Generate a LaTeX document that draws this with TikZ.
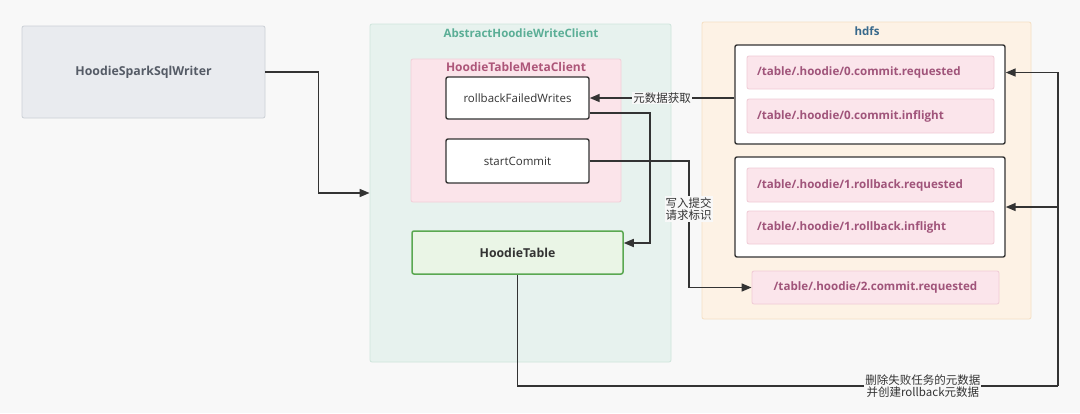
\documentclass[tikz,border=0pt]{standalone}
\usepackage{fontspec}
\setmainfont{Open Sans}
\newfontfamily\cjk{Noto Sans CJK SC}
\usetikzlibrary{arrows.meta}
\definecolor{bg}{HTML}{F8F8F8}
\definecolor{wrfill}{HTML}{E9EBEF}
\definecolor{wrdraw}{HTML}{CBD0D6}
\definecolor{wrtext}{HTML}{555B66}
\definecolor{awfill}{HTML}{E7F2EE}
\definecolor{awdraw}{HTML}{CFE5DC}
\definecolor{awtext}{HTML}{5BAE96}
\definecolor{mcfill}{HTML}{FBE4EA}
\definecolor{mcdraw}{HTML}{F2CFD8}
\definecolor{mctext}{HTML}{AD5679}
\definecolor{htfill}{HTML}{EAF5E6}
\definecolor{htdraw}{HTML}{5AA851}
\definecolor{hdfill}{HTML}{FDF2E5}
\definecolor{hddraw}{HTML}{F5DFC3}
\definecolor{hdtext}{HTML}{38698C}
\definecolor{itfill}{HTML}{FBE5EB}
\definecolor{itdraw}{HTML}{F0CBD6}
\definecolor{ittext}{HTML}{A0547A}
\definecolor{ink}{HTML}{333333}
\tikzset{
  box/.style={rounded corners=2pt, inner sep=0pt, line width=0.8pt},
  wbox/.style={box, draw=ink, fill=white, line width=1.4pt, font=\fontsize{11.5}{13}\selectfont, text=ink},
  item/.style={box, draw=itdraw, fill=itfill, font=\bfseries\fontsize{11.6}{13}\selectfont, text=ittext},
  title/.style={inner sep=0pt, font=\bfseries\fontsize{11.5}{13}\selectfont},
  conn/.style={draw=ink, line width=1.6pt},
  arr/.style={conn, -{Triangle[length=10pt,width=8pt]}},
  lbl/.style={fill=bg, inner sep=1pt, text=ink, font=\cjk\fontsize{11.5}{12.5}\selectfont, align=center},
}
\begin{document}
\begin{tikzpicture}[x=1pt,y=-1pt]
\useasboundingbox[fill=bg] (0,0) rectangle (1080,413);
% left writer
\node[box, draw=wrdraw, fill=wrfill, minimum width=243pt, minimum height=92pt, text=wrtext, font=\bfseries\fontsize{12.3}{14}\selectfont] (writer) at (143.5,72) {HoodieSparkSqlWriter};
% AbstractHoodieWriteClient container
\node[box, draw=awdraw, fill=awfill, minimum width=301pt, minimum height=338pt] (awc) at (520.5,193) {};
\node[title, text=awtext] (awct) at (521,33) {AbstractHoodieWriteClient};
\node[box, draw=mcdraw, fill=mcfill, minimum width=210pt, minimum height=143pt] (mc) at (516,130.5) {};
\node[title, text=mctext, font=\bfseries\fontsize{12}{13}\selectfont] (mct) at (516,67) {HoodieTableMetaClient};
\node[wbox, minimum width=143pt, minimum height=42pt] (rfw) at (517.5,98) {rollbackFailedWrites};
\node[wbox, minimum width=143pt, minimum height=44pt] (sc) at (517.5,161) {startCommit};
\node[box, draw=htdraw, fill=htfill, line width=1.5pt, minimum width=211pt, minimum height=43pt, text=ink, font=\bfseries\fontsize{12.3}{14}\selectfont] (ht) at (517.5,252.5) {HoodieTable};
% hdfs container
\node[box, draw=hddraw, fill=hdfill, minimum width=329pt, minimum height=297pt] (hdfs) at (866.5,170.5) {};
\node[title, text=hdtext] (hdfst) at (867,31) {hdfs};
\node[wbox, minimum width=270pt, minimum height=99pt] (g1) at (870,94.5) {};
\node[item, minimum width=247pt, minimum height=33pt, text width=227pt] (c0r) at (870.5,72.5) {/table/.hoodie/0.commit.requested};
\node[item, minimum width=247pt, minimum height=34pt, text width=227pt] (c0i) at (870.5,116) {/table/.hoodie/0.commit.inflight};
\node[wbox, minimum width=270pt, minimum height=100pt] (g2) at (870,207) {};
\node[item, minimum width=247pt, minimum height=34pt, text width=227pt] (r1r) at (870.5,185) {/table/.hoodie/1.rollback.requested};
\node[item, minimum width=247pt, minimum height=33pt, text width=227pt] (r1i) at (870.5,227.5) {/table/.hoodie/1.rollback.inflight};
\node[item, minimum width=247pt, minimum height=33pt] (c2r) at (875.5,287.5) {/table/.hoodie/2.commit.requested};
% connectors
\draw[arr] (writer.east) -- ++(53,0) |- (awc.west);
\draw[arr] (g1.west |- rfw.east) -- node[lbl] {元数据获取} (rfw.east);
\draw[arr] ([yshift=7pt]rfw.south east) -- ++(60,0) |- ([yshift=9.5pt]ht.east);
\draw[arr] (sc.east) -- ++(99,0) |- node[lbl, pos=0.19] {写入提交\\请求标识} (c2r.west);
\coordinate (cr) at (1058,386);
\draw[conn] (ht.south) -- (ht.south |- cr) -- node[lbl, pos=0.75] {删除失败任务的元数据\\并创建rollback元数据} (cr);
\draw[arr] (cr) |- (g1.east |- c0r.east);
\draw[arr] (cr |- g2.east) -- (g2.east);
\end{tikzpicture}
\end{document}
